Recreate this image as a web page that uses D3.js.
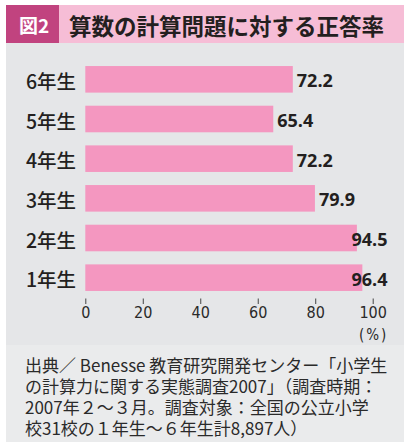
<!DOCTYPE html>
<html><head><meta charset="utf-8">
<script src="https://cdn.jsdelivr.net/npm/d3@7"></script>
<style>
html,body{margin:0;padding:0;background:#fff;}
svg{display:block;}
</style></head>
<body>
<script>
const figLabel = "図2";
const title = "算数の計算問題に対する正答率";
const categories = ["6年生","5年生","4年生","3年生","2年生","1年生"];
const values = [72.2, 65.4, 72.2, 79.9, 94.5, 96.4];
const tickValues = [0, 20, 40, 60, 80, 100];
const unitLabel = "(%)";
const captionLines = [
  "出典／ Benesse 教育研究開発センター「小学生",
  "の計算力に関する実態調査2007」（調査時期：",
  "2007年２〜３月。調査対象：全国の公立小学",
  "校31校の１年生〜６年生計8,897人）"
];

const W = 404, H = 448;
const svg = d3.select("body").append("svg").attr("width", W).attr("height", H);
const jp = "'Noto Sans CJK JP','Noto Sans',sans-serif";
const narrow = "'Liberation Sans Narrow','DejaVu Sans Condensed',sans-serif";

// panels
svg.append("rect").attr("x",6).attr("y",43).attr("width",W-6).attr("height",302).attr("fill","#e5e6e8");
svg.append("rect").attr("x",6).attr("y",345).attr("width",W-6).attr("height",97).attr("fill","#eaebec");
// header
svg.append("rect").attr("x",6).attr("y",5).attr("width",W-6).attr("height",38).attr("fill","#f6bdd6");
svg.append("rect").attr("x",6).attr("y",5).attr("width",53).attr("height",38).attr("fill","#c1437f");
svg.append("text").attr("x",34).attr("y",24.5).attr("text-anchor","middle").attr("dominant-baseline","central")
  .attr("font-family",jp).attr("font-weight",700).attr("font-size",19).attr("fill","#fff").text(figLabel);
svg.append("text").attr("x",69).attr("y",24.5).attr("dominant-baseline","central")
  .attr("font-family",jp).attr("font-weight",700).attr("font-size",22.5).attr("fill","#231f20").text(title);

// scales
const x = d3.scaleLinear().domain([0,100]).range([85.3, 372.7]);
const y = d3.scaleBand().domain(categories).range([59.5, 297.5]).paddingInner(0.33).paddingOuter(0.165);

const g = svg.append("g");
g.selectAll("rect.bar").data(categories).join("rect").attr("class","bar")
  .attr("x", x(0)).attr("y", (d)=>y(d)).attr("height", y.bandwidth())
  .attr("width", (d,i)=>x(values[i])-x(0)).attr("fill","#f497c0");

g.selectAll("text.cat").data(categories).join("text").attr("class","cat")
  .attr("x", 76).attr("y", d=>y(d)+y.bandwidth()/2+1).attr("text-anchor","end")
  .attr("dominant-baseline","central").attr("font-family",jp).attr("font-weight",500)
  .attr("font-size",19.5).attr("fill","#231f20").text(d=>d);

g.selectAll("text.val").data(categories).join("text").attr("class","val")
  .attr("x", (d,i)=>Math.min(x(values[i])+4, 351.5)).attr("y", d=>y(d)+y.bandwidth()/2+1)
  .attr("dominant-baseline","central").attr("font-family","'Open Sans',sans-serif").attr("font-weight",700)
  .attr("font-size",18).attr("fill","#231f20").text((d,i)=>values[i].toFixed(1));

// axis
const axis = d3.axisBottom(x).tickValues(tickValues).tickSize(5.5).tickSizeOuter(0).tickPadding(3);
const ax = svg.append("g").attr("transform","translate(0,298.5)").call(axis);
ax.select(".domain").remove();
ax.selectAll(".tick line").attr("stroke","#444").attr("stroke-width",1);
ax.selectAll(".tick text").attr("font-family",narrow)
  .attr("font-size",16).attr("fill","#2a2a2a");
svg.append("text").attr("x", x(100)+1).attr("y", 334.5).attr("text-anchor","middle").attr("dominant-baseline","central")
  .attr("font-family",narrow).attr("font-size",15).attr("letter-spacing",2).attr("fill","#2a2a2a").text(unitLabel);

// caption
svg.selectAll("text.cap").data(captionLines).join("text").attr("class","cap")
  .attr("x",25).attr("y",(d,i)=>364+i*21.3).attr("dominant-baseline","central")
  .attr("font-family",jp).attr("font-size",17).attr("fill","#2a2a2a").text(d=>d);
</script>
</body></html>
